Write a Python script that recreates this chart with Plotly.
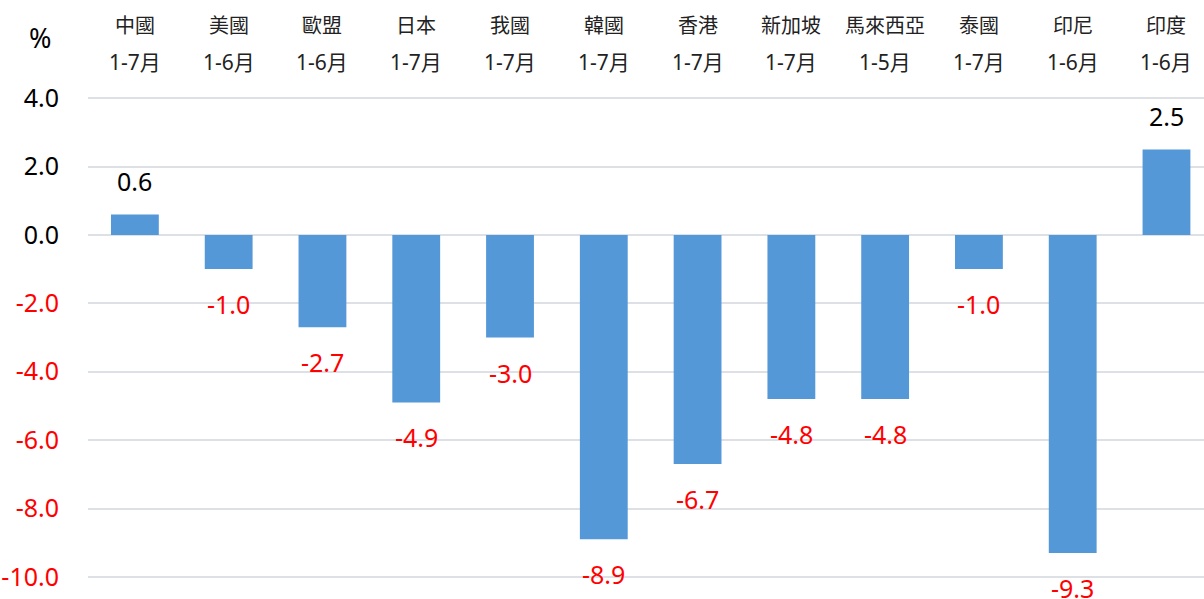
import plotly.graph_objects as go

countries = ["中國", "美國", "歐盟", "日本", "我國", "韓國", "香港", "新加坡", "馬來西亞", "泰國", "印尼", "印度"]
periods = ["1-7月", "1-6月", "1-6月", "1-7月", "1-7月", "1-7月", "1-7月", "1-7月", "1-5月", "1-7月", "1-6月", "1-6月"]
values = [0.6, -1.0, -2.7, -4.9, -3.0, -8.9, -6.7, -4.8, -4.8, -1.0, -9.3, 2.5]
y_ticks = [4.0, 2.0, 0.0, -2.0, -4.0, -6.0, -8.0, -10.0]

FONT = "Noto Sans, Noto Sans CJK TC, sans-serif"

fig = go.Figure()
fig.add_trace(go.Bar(
    x=countries, y=values, width=0.51,
    marker=dict(color="#5598d8", line=dict(width=0)),
    hoverinfo="skip",
))

H, T, B = 599, 81, 5
plot_h = H - T - B

def py(pix):
    return (H - B - pix) / plot_h

annotations = []
for c, p, v in zip(countries, periods, values):
    neg = v < 0
    annotations.append(dict(
        x=c, y=v, xref="x", yref="y", text=f"{v:.1f}", showarrow=False,
        yanchor="middle", yshift=-35 if neg else 33,
        font=dict(family=FONT, size=25, color="#ff0000" if neg else "#000000"),
    ))
    annotations.append(dict(
        x=c, y=py(25), xref="x", yref="paper", text=c, showarrow=False,
        yanchor="middle", font=dict(family=FONT, size=20, color="#222222"),
    ))
    annotations.append(dict(
        x=c, y=py(62), xref="x", yref="paper", text=p, showarrow=False,
        yanchor="middle", font=dict(family=FONT, size=21, color="#222222"),
    ))

annotations.append(dict(
    x=0, y=py(37), xref="paper", yref="paper", text="%",
    showarrow=False, xshift=-48, xanchor="center", yanchor="middle",
    font=dict(family=FONT, size=27, color="#000000"),
))

ticktext = []
for t in y_ticks:
    s = f"{t:.1f}"
    if t < 0:
        s = f'<span style="color:#ff0000">{s}</span>'
    ticktext.append(s)

fig.update_layout(
    width=1204, height=599,
    margin=dict(l=88, r=0, t=T, b=B),
    paper_bgcolor="white", plot_bgcolor="white",
    showlegend=False,
    annotations=annotations,
    xaxis=dict(showticklabels=False, showgrid=False, zeroline=False,
               showline=False, ticks="", range=[-0.5, 11.4]),
    yaxis=dict(range=[-10.5, 4.5], tickvals=y_ticks, ticktext=ticktext,
               showgrid=True, gridcolor="#dde1e6", gridwidth=2,
               zeroline=True, zerolinecolor="#dde1e6", zerolinewidth=2,
               showline=False, ticks="", ticklabelstandoff=28,
               tickfont=dict(family=FONT, size=25, color="#000000")),
)

fig.write_html("out.html", config={"displayModeBar": False},
               post_script="document.body.style.margin='0';document.body.style.overflow='hidden';")
